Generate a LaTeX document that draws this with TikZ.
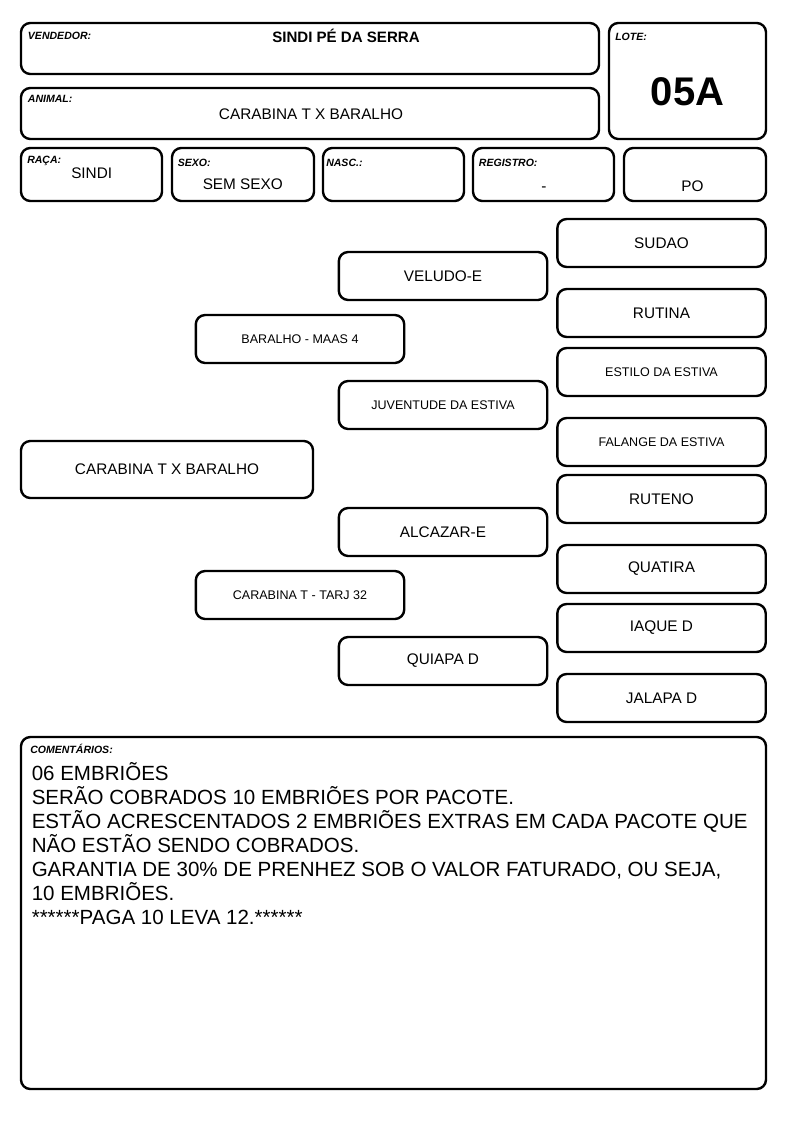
\documentclass[tikz,border=0pt]{standalone}
\usepackage{fontspec}
\setmainfont{Liberation Sans}
\usetikzlibrary{fit}

\begin{document}
\begin{tikzpicture}[x=0.75pt, y=-0.75pt]
    \tikzset{Box/.style = {draw, line width=1.8pt, rounded corners=7pt, inner sep=0pt},
             Ped/.style = {Box, minimum width=156.3pt, minimum height=36pt},
             Tag/.style = {anchor=base west, inner sep=0pt, font=\fontsize{7.9}{9}\selectfont\bfseries\itshape},
             Name/.style = {font=\fontsize{11.5}{13}\selectfont},
             Small/.style = {font=\fontsize{9.4}{11}\selectfont},
             Val/.style = {Name, anchor=base, inner sep=0pt}}
    \useasboundingbox (0,0) rectangle (794,1123);
    % cabecalho
    \node[Box, fit={(21,23) (599,74)}] (vendedor) {};
    \node[Box, fit={(609,23) (766,139)}] (lote) {};
    \node[Box, fit={(21,88) (599,139)}] (animal) {};
    \node[Box, fit={(21,148) (162,201)}] (raca) {};
    \node[Box, fit={(172,148) (314,201)}] (sexo) {};
    \node[Box, fit={(323,148) (464,201)}] (nasc) {};
    \node[Box, fit={(473,148) (614,201)}] (registro) {};
    \node[Box, fit={(624,148) (766,201)}] (tipo) {};
    \node[Tag] (t-vendedor) at (27.7,39.2) {VENDEDOR:};
    \node[Tag] (t-lote) at (615,40.8) {LOTE:};
    \node[Tag] (t-animal) at (27.7,102.5) {ANIMAL:};
    \node[Tag] (t-raca) at (27,164) {RAÇA:};
    \node[Tag] (t-sexo) at (177.5,166.5) {SEXO:};
    \node[Tag] (t-nasc) at (326,166.5) {NASC.:};
    \node[Tag] (t-registro) at (478.7,166.5) {REGISTRO:};
    \node[Val, font=\fontsize{11.3}{13}\selectfont\bfseries] (v-vendedor) at (346,42.7) {SINDI PÉ DA SERRA};
    \node[Val, font=\fontsize{30}{32}\selectfont\bfseries] (v-lote) at (687.5,105.7) {05A};
    \node[Val] (v-animal) at (311,119.3) {CARABINA T X BARALHO};
    \node[Val] (v-raca) at (91.7,178.3) {SINDI};
    \node[Val] (v-sexo) at (242.8,189.7) {SEM SEXO};
    \node[Val] (v-registro) at (544,192) {-};
    \node[Val] (v-tipo) at (692.5,191.7) {PO};
    % genealogia
    \node[Box, Name, minimum width=219pt, minimum height=42.75pt] (an) at (167,469.5) {CARABINA T X BARALHO};
    \node[Ped, Small] (p) at (300,339) {BARALHO - MAAS 4};
    \node[Ped, Small] (m) at (300,595) {CARABINA T - TARJ 32};
    \node[Ped, Name] (pp) at (443,276) {VELUDO-E};
    \node[Ped, Small] (pm) at (443,405) {JUVENTUDE DA ESTIVA};
    \node[Ped, Name] (mp) at (443,532) {ALCAZAR-E};
    \node[Ped, Name] (mm) at (443,661) {QUIAPA D};
    \node[Ped, Name] (ppp) at (661.5,243) {SUDAO};
    \node[Ped, Name] (ppm) at (661.5,313) {RUTINA};
    \node[Ped, Small] (pmp) at (661.5,372) {ESTILO DA ESTIVA};
    \node[Ped, Small] (pmm) at (661.5,442) {FALANGE DA ESTIVA};
    \node[Ped, Name] (mpp) at (661.5,499) {RUTENO};
    \node[Ped, Name] (mpm) at (661.5,569) {QUATIRA};
    \node[Ped, Name] (mmp) at (661.5,628) {IAQUE D};
    \node[Ped, Name] (mmm) at (661.5,698) {JALAPA D};
    % comentarios
    \node[Box, fit={(21,737) (766,1089)}] (comentarios) {};
    \node[Tag] (t-comentarios) at (30,753) {COMENTÁRIOS:};
    \foreach \t [count=\i] in {06 EMBRIÕES,
        SERÃO COBRADOS 10 EMBRIÕES POR PACOTE.,
        ESTÃO ACRESCENTADOS 2 EMBRIÕES EXTRAS EM CADA PACOTE QUE,
        NÃO ESTÃO SENDO COBRADOS.,
        {GARANTIA DE 30\% DE PRENHEZ SOB O VALOR FATURADO, OU SEJA,},
        10 EMBRIÕES.,
        ******PAGA 10 LEVA 12.******}
      \node[anchor=base west, inner sep=0pt, font=\fontsize{15.4}{18}\selectfont] (c\i) at (31.5,780.7+23.9*\i-23.9) {\t};
\end{tikzpicture}
\end{document}
